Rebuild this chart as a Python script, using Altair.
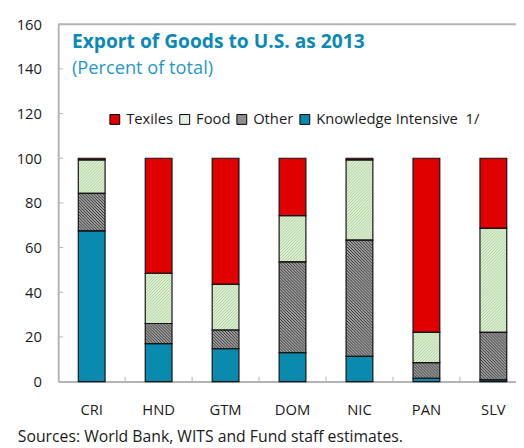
import urllib.parse
import altair as alt
import pandas as pd

# ---------------- data ----------------
countries = ["CRI", "HND", "GTM", "DOM", "NIC", "PAN", "SLV"]
knowledge = [67.5, 17.0, 14.7, 13.0, 11.3, 1.5, 0.8]
other = [16.8, 9.0, 8.4, 40.6, 52.0, 7.0, 21.2]
food = [15.0, 22.5, 20.4, 20.7, 36.0, 13.5, 46.6]
textiles = [0.7, 51.5, 56.5, 25.7, 0.7, 78.0, 31.4]

KI = "Knowledge Intensive\u00a0 1/"
stack_order = [KI, "Other", "Food", "Texiles"]          # bottom -> top
legend_order = ["Texiles", "Food", "Other", KI]
legend_colors = ["#e00000", "#e4f0de", "#8f8f8f", "#0b8ab0"]
y_ticks = [0, 20, 40, 60, 80, 100, 120, 140, 160]

title_text = "Export of Goods to U.S. as 2013"
subtitle_text = "(Percent of total)"
source_text = "Sources: World Bank, WITS and Fund staff estimates."

FONT = "Open Sans"
GREY = "#b4b4b4"


def hatch(color, forward, width):
    if forward:
        d = "M-0.75,0.75 L0.75,-0.75 M0,3 L3,0 M2.25,3.75 L3.75,2.25"
    else:
        d = "M-0.75,2.25 L0.75,3.75 M0,0 L3,3 M2.25,-0.75 L3.75,0.75"
    svg = ('<svg xmlns="http://www.w3.org/2000/svg">'
           '<defs><pattern id="p" patternUnits="userSpaceOnUse" width="3" height="3">'
           '<rect width="3" height="3" fill="#ffffff"/>'
           f'<path d="{d}" stroke="{color}" stroke-width="{width}"/>'
           '</pattern></defs>'
           '<rect width="100%" height="100%" fill="url(#p)"/></svg>')
    return "data:image/svg+xml;charset=utf-8," + urllib.parse.quote(svg)


patterns = {"Food": hatch("#9fcd86", True, 1.1), "Other": hatch("#2e2e2e", False, 1.25)}

rows = []
series = [knowledge, other, food, textiles]
for i, c in enumerate(countries):
    for j, cat in enumerate(stack_order):
        rows.append({"country": c, "cat": cat, "order": j,
                     "value": series[j][i], "url": patterns.get(cat, "")})
df = pd.DataFrame(rows)

# ---------------- chart ----------------
x_enc = alt.X("country:N", sort=countries,
              scale=alt.Scale(range=[0, 476], paddingInner=0.6, paddingOuter=0.3),
              axis=alt.Axis(title=None, labelAngle=0, ticks=False, domainColor=GREY,
                            domainWidth=2, labelFont=FONT, labelFontSize=15,
                            labelColor="#1a1a1a", labelPadding=21))
y_scale = alt.Scale(domain=[0, 160], nice=False)
y_enc = alt.Y("y1:Q", scale=y_scale,
              axis=alt.Axis(title=None, values=y_ticks, ticks=False, grid=False,
                            domainColor=GREY, domainWidth=2, labelFont=FONT,
                            labelFontSize=15, labelColor="#1a1a1a", labelPadding=17))

base = alt.Chart(df).transform_stack(
    stack="value", groupby=["country"],
    sort=[alt.SortField("order", order="ascending")], as_=["y0", "y1"])

bars = base.mark_bar(strokeWidth=0).encode(
    x=x_enc, y=y_enc, y2="y0:Q",
    color=alt.Color("cat:N", scale=alt.Scale(domain=legend_order, range=legend_colors),
                    legend=alt.Legend(orient="none", legendX=50, legendY=89,
                                      direction="horizontal", title=None,
                                      symbolType="square", symbolSize=100,
                                      symbolStrokeColor="#000000", symbolStrokeWidth=1,
                                      labelFont=FONT, labelFontSize=15, labelColor="#1a1a1a",
                                      labelLimit=300, columnPadding=4, labelOffset=4,
                                      padding=0)))

images = base.transform_filter(alt.datum.url != "").mark_image(aspect=False).encode(
    x=alt.X("country:N", sort=countries), y="y1:Q", y2="y0:Q", url="url:N")

outlines = base.mark_bar(fill="transparent", stroke="#141414", strokeWidth=1.2).encode(
    x=alt.X("country:N", sort=countries), y="y1:Q", y2="y0:Q")

ytick_rules = alt.Chart(pd.DataFrame({"v": y_ticks[1:]})).mark_rule(
    color=GREY, strokeWidth=1).encode(y=alt.Y("v:Q", scale=y_scale), x=alt.value(0), x2=alt.value(5))

xtick_rules = alt.Chart(pd.DataFrame({"country": countries[1:]})).mark_rule(
    color=GREY, strokeWidth=1, xOffset=-34).encode(
    x=alt.X("country:N", sort=countries), y=alt.value(363), y2=alt.value(358))

top_line = alt.Chart(pd.DataFrame({"a": [0]})).mark_rule(color=GREY, strokeWidth=2).encode(
    x=alt.value(0), x2=alt.value(476), y=alt.value(0))

title = alt.Chart(pd.DataFrame({"t": [title_text]})).mark_text(
    align="left", baseline="alphabetic", font=FONT, fontSize=19.5, fontWeight="bold",
    color="#0b89b6").encode(x=alt.value(14), y=alt.value(24), text="t:N")

subtitle = alt.Chart(pd.DataFrame({"t": [subtitle_text]})).mark_text(
    align="left", baseline="alphabetic", font=FONT, fontSize=18.5,
    color="#1f97c9").encode(x=alt.value(14), y=alt.value(51), text="t:N")

source = alt.Chart(pd.DataFrame({"t": [source_text]})).mark_text(
    align="left", baseline="alphabetic", font=FONT, fontSize=16,
    color="#1a1a1a").encode(x=alt.value(-41), y=alt.value(424), text="t:N")

chart = alt.layer(bars, images, outlines, ytick_rules, xtick_rules, top_line,
                  title, subtitle, source).properties(
    width=465, height=363,
    autosize=alt.AutoSizeParams(type="none"),
    padding={"left": 51, "top": 13, "right": 0, "bottom": 64},
).configure_view(stroke="transparent")

chart.save("out.html", embed_options={"renderer": "svg", "actions": False})
